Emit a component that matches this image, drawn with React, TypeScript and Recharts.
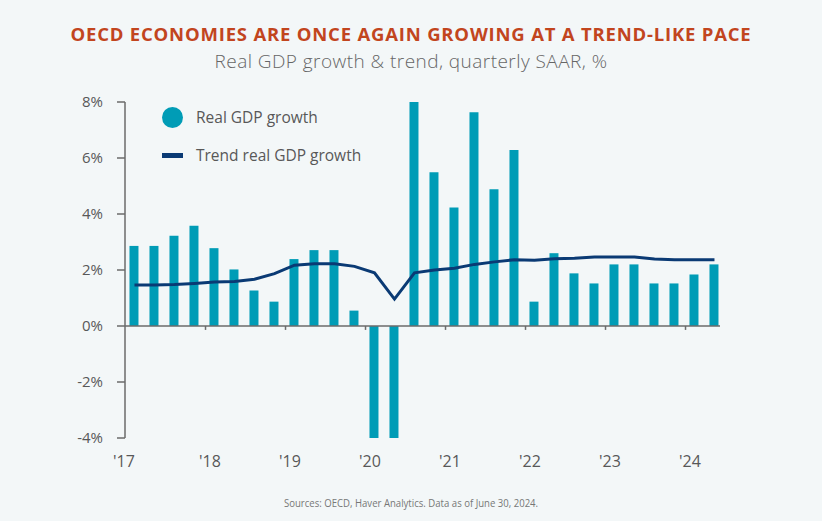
import { ComposedChart, Bar, Line, XAxis, YAxis, ReferenceLine } from 'recharts'

// Quarterly, 2017 Q1 – 2024 Q2 (SAAR, %); bars clipped at chart range like the original
const quarters = [
  '2017Q1', '2017Q2', '2017Q3', '2017Q4',
  '2018Q1', '2018Q2', '2018Q3', '2018Q4',
  '2019Q1', '2019Q2', '2019Q3', '2019Q4',
  '2020Q1', '2020Q2', '2020Q3', '2020Q4',
  '2021Q1', '2021Q2', '2021Q3', '2021Q4',
  '2022Q1', '2022Q2', '2022Q3', '2022Q4',
  '2023Q1', '2023Q2', '2023Q3', '2023Q4',
  '2024Q1', '2024Q2',
]

const realGdpGrowth = [
  2.86, 2.86, 3.22, 3.58,
  2.78, 2.02, 1.27, 0.87,
  2.39, 2.71, 2.71, 0.55,
  -4, -4, 8, 5.49,
  4.23, 7.63, 4.88, 6.29,
  0.87, 2.6, 1.88, 1.52,
  2.2, 2.2, 1.52, 1.52,
  1.84, 2.2,
]

const trendGrowth = [
  1.46, 1.46, 1.48, 1.52,
  1.57, 1.59, 1.67, 1.87,
  2.17, 2.22, 2.22, 2.13,
  1.9, 0.96, 1.9, 2.0,
  2.06, 2.2, 2.29, 2.37,
  2.35, 2.4, 2.42, 2.46,
  2.46, 2.46, 2.39, 2.37,
  2.37, 2.37,
]

const yearTicks = [2017, 2018, 2019, 2020, 2021, 2022, 2023, 2024]
const yTicks = [-4, -2, 0, 2, 4, 6, 8]

const BAR = '#009cb6'
const TREND = '#0a3a74'
const AXIS = '#6b6b6b'
const TEXT = '#585858'
const FONT = '"Open Sans", sans-serif'

// quarter -> position on a year axis (bars sit just right of the year tick)
const toX = (q: string) => {
  const year = Number(q.slice(0, 4))
  const n = Number(q.slice(5))
  return year + 0.056 + (n - 1) * 0.25
}

const data = quarters.map((q, i) => ({
  x: toX(q),
  gdp: realGdpGrowth[i],
  trend: trendGrowth[i],
}))

function YearTick({ x, y, payload }: any) {
  const shift = payload.value === 2017 ? -6 : 0
  return (
    <text x={x + shift} y={y} dy={29} textAnchor="middle" fill={TEXT} fontSize={16} fontFamily={FONT}>
      {"'" + String(payload.value).slice(2)}
    </text>
  )
}

function ChartLegend() {
  return (
    <div style={{ position: 'absolute', top: 105, left: 160, fontFamily: FONT, fontSize: 15.5, color: TEXT }}>
      <div style={{ display: 'flex', alignItems: 'center', height: 24 }}>
        <span style={{ width: 21, height: 21, borderRadius: '50%', background: BAR, marginLeft: 2, marginRight: 13 }} />
        <span>Real GDP growth</span>
      </div>
      <div style={{ display: 'flex', alignItems: 'center', height: 24, marginTop: 14 }}>
        <span style={{ width: 21, height: 5, background: TREND, marginLeft: 2, marginRight: 13 }} />
        <span>Trend real GDP growth</span>
      </div>
    </div>
  )
}

export default function App() {
  return (
    <div style={{ position: 'fixed', left: 0, top: 0, width: 822, height: 521, background: '#f3f7f8', overflow: 'hidden' }}>
      <div
        style={{
          position: 'absolute', top: 25, left: 0, width: 822, textAlign: 'center',
          fontFamily: FONT, fontWeight: 700, fontSize: 18.5, letterSpacing: 0.8, lineHeight: 1, color: '#c2451e',
        }}
      >
        OECD ECONOMIES ARE ONCE AGAIN GROWING AT A TREND-LIKE PACE
      </div>
      <div
        style={{
          position: 'absolute', top: 52, left: 0, width: 822, textAlign: 'center',
          fontFamily: FONT, fontWeight: 300, fontSize: 19, letterSpacing: 0.45, lineHeight: 1, color: '#666',
        }}
      >
        Real GDP growth &amp; trend, quarterly SAAR, %
      </div>

      <div style={{ position: 'absolute', top: 0, left: 0 }}>
        <ComposedChart width={822} height={521} data={data} margin={{ top: 102, right: 102, bottom: 53, left: 0 }}>
          <XAxis
            dataKey="x"
            type="number"
            domain={[2016.9375, 2024.375]}
            ticks={yearTicks}
            tick={<YearTick />}
            axisLine={false}
            tickLine={false}
            tickSize={0}
            tickMargin={0}
            height={30}
            allowDataOverflow
          />
          <YAxis
            type="number"
            domain={[-4, 8]}
            ticks={yTicks}
            width={125}
            tickFormatter={(v: number) => `${v}%`}
            tick={{ fill: TEXT, fontSize: 15, fontFamily: FONT }}
            axisLine={{ stroke: AXIS, strokeWidth: 1.5 }}
            tickLine={{ stroke: AXIS, strokeWidth: 1.5 }}
            tickSize={8}
            tickMargin={14}
            allowDataOverflow
          />
          <Bar dataKey="gdp" fill={BAR} barSize={9} isAnimationActive={false} />
          <ReferenceLine y={0} stroke={AXIS} strokeWidth={1.5} />
          {yearTicks.slice(1).map((yr) => (
            <ReferenceLine
              key={yr}
              segment={[{ x: yr - 0.056, y: 0 }, { x: yr - 0.056, y: -0.14 }]}
              stroke={AXIS}
              strokeWidth={1.5}
              ifOverflow="visible"
            />
          ))}
          <Line
            dataKey="trend"
            type="linear"
            stroke={TREND}
            strokeWidth={3}
            dot={false}
            isAnimationActive={false}
          />
        </ComposedChart>
      </div>

      <ChartLegend />

      <div style={{ position: 'absolute', top: 494, left: 0, width: 822, textAlign: 'center', lineHeight: 1 }}>
        <span
          style={{
            display: 'inline-block', transform: 'scaleX(0.87)',
            fontFamily: FONT, fontSize: 11, color: '#777',
          }}
        >
          Sources: OECD, Haver Analytics. Data as of June 30, 2024.
        </span>
      </div>
    </div>
  )
}
